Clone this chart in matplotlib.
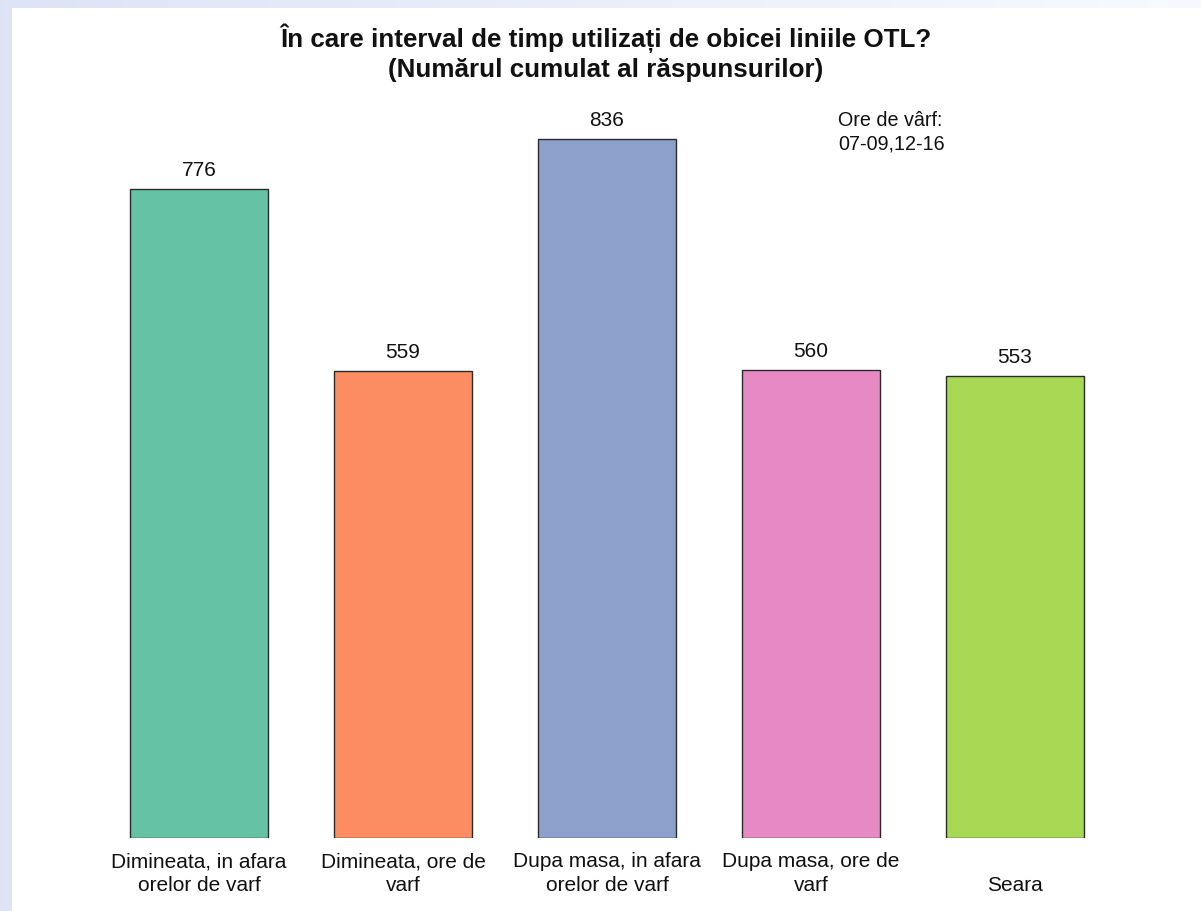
import numpy as np
import matplotlib
matplotlib.use("Agg")
import matplotlib.pyplot as plt
import matplotlib.transforms as mtransforms
from matplotlib.patches import Rectangle

plt.rcParams['font.family'] = ['Liberation Sans', 'DejaVu Sans']

categories = ["Dimineata, in afara\norelor de varf", "Dimineata, ore de\nvarf",
              "Dupa masa, in afara\norelor de varf", "Dupa masa, ore de\nvarf", "Seara"]
values = [776, 559, 836, 560, 553]
colors = ["#66c2a5", "#fc8d62", "#8da0cb", "#e78ac3", "#a6d854"]
title = "În care interval de timp utilizați de obicei liniile OTL?\n(Numărul cumulat al răspunsurilor)"
note = "Ore de vârf:\n07-09,12-16"

W, H = 1201, 912
fig = plt.figure(figsize=(W / 100, H / 100), dpi=100)

# background gradient frame
bg = fig.add_axes([0, 0, 1, 1], zorder=-10)
grad = np.linspace(0, 1, 256)
c0 = np.array([0.872, 0.890, 0.962])
c1 = np.array([0.975, 0.980, 0.997])
img = c0[None, :] * (1 - grad[:, None]) + c1[None, :] * grad[:, None]
bg.imshow(img[None, :, :], aspect='auto', extent=[0, 1, 0, 1])
bg.add_patch(Rectangle((12 / W, 0), 1, (H - 9) / H, facecolor='white', edgecolor='none'))
bg.set_xlim(0, 1)
bg.set_ylim(0, 1)
bg.axis('off')

# main axes: x-unit = 204 px, bar 0 centre at 199 px; y baseline at 839 px, 0.836 px/unit
unit = 204.0
c0x = 199.0
left_px, right_px = 60, 1150
top_px, base_px = 100, 839
pxu = 0.836
ax = fig.add_axes([left_px / W, (H - base_px) / H, (right_px - left_px) / W, (base_px - top_px) / H])
ax.set_xlim((left_px - c0x) / unit, (right_px - c0x) / unit)
ax.set_ylim(0, (base_px - top_px) / pxu)
ax.patch.set_alpha(0)
x = np.arange(len(values))
ax.bar(x, values, width=138 / unit, color=colors, edgecolor='#2a2a2a', linewidth=1.0)
for xi, v in zip(x, values):
    ax.annotate(str(v), (xi, v), xytext=(0, 7.2), textcoords='offset points',
                ha='center', va='bottom', fontsize=15, color='#111111')
for s in ax.spines.values():
    s.set_visible(False)
ax.set_xticks([])
ax.set_yticks([])

tr = mtransforms.blended_transform_factory(ax.transData, fig.transFigure)
for xi, lab in zip(x, categories):
    ax.text(xi, (H - 895) / H, lab, transform=tr, ha='center', va='bottom',
            fontsize=15, linespacing=1.32, color='#111111')

fig.text(606 / W, (H - 82) / H, title, ha='center', va='bottom', fontsize=18.7,
         fontweight='bold', linespacing=1.28, color='#111111')
fig.text(838 / W, (H - 154) / H, note, ha='left', va='bottom', fontsize=14.2,
         linespacing=1.3, color='#111111')

fig.savefig("out.png", dpi=100)
